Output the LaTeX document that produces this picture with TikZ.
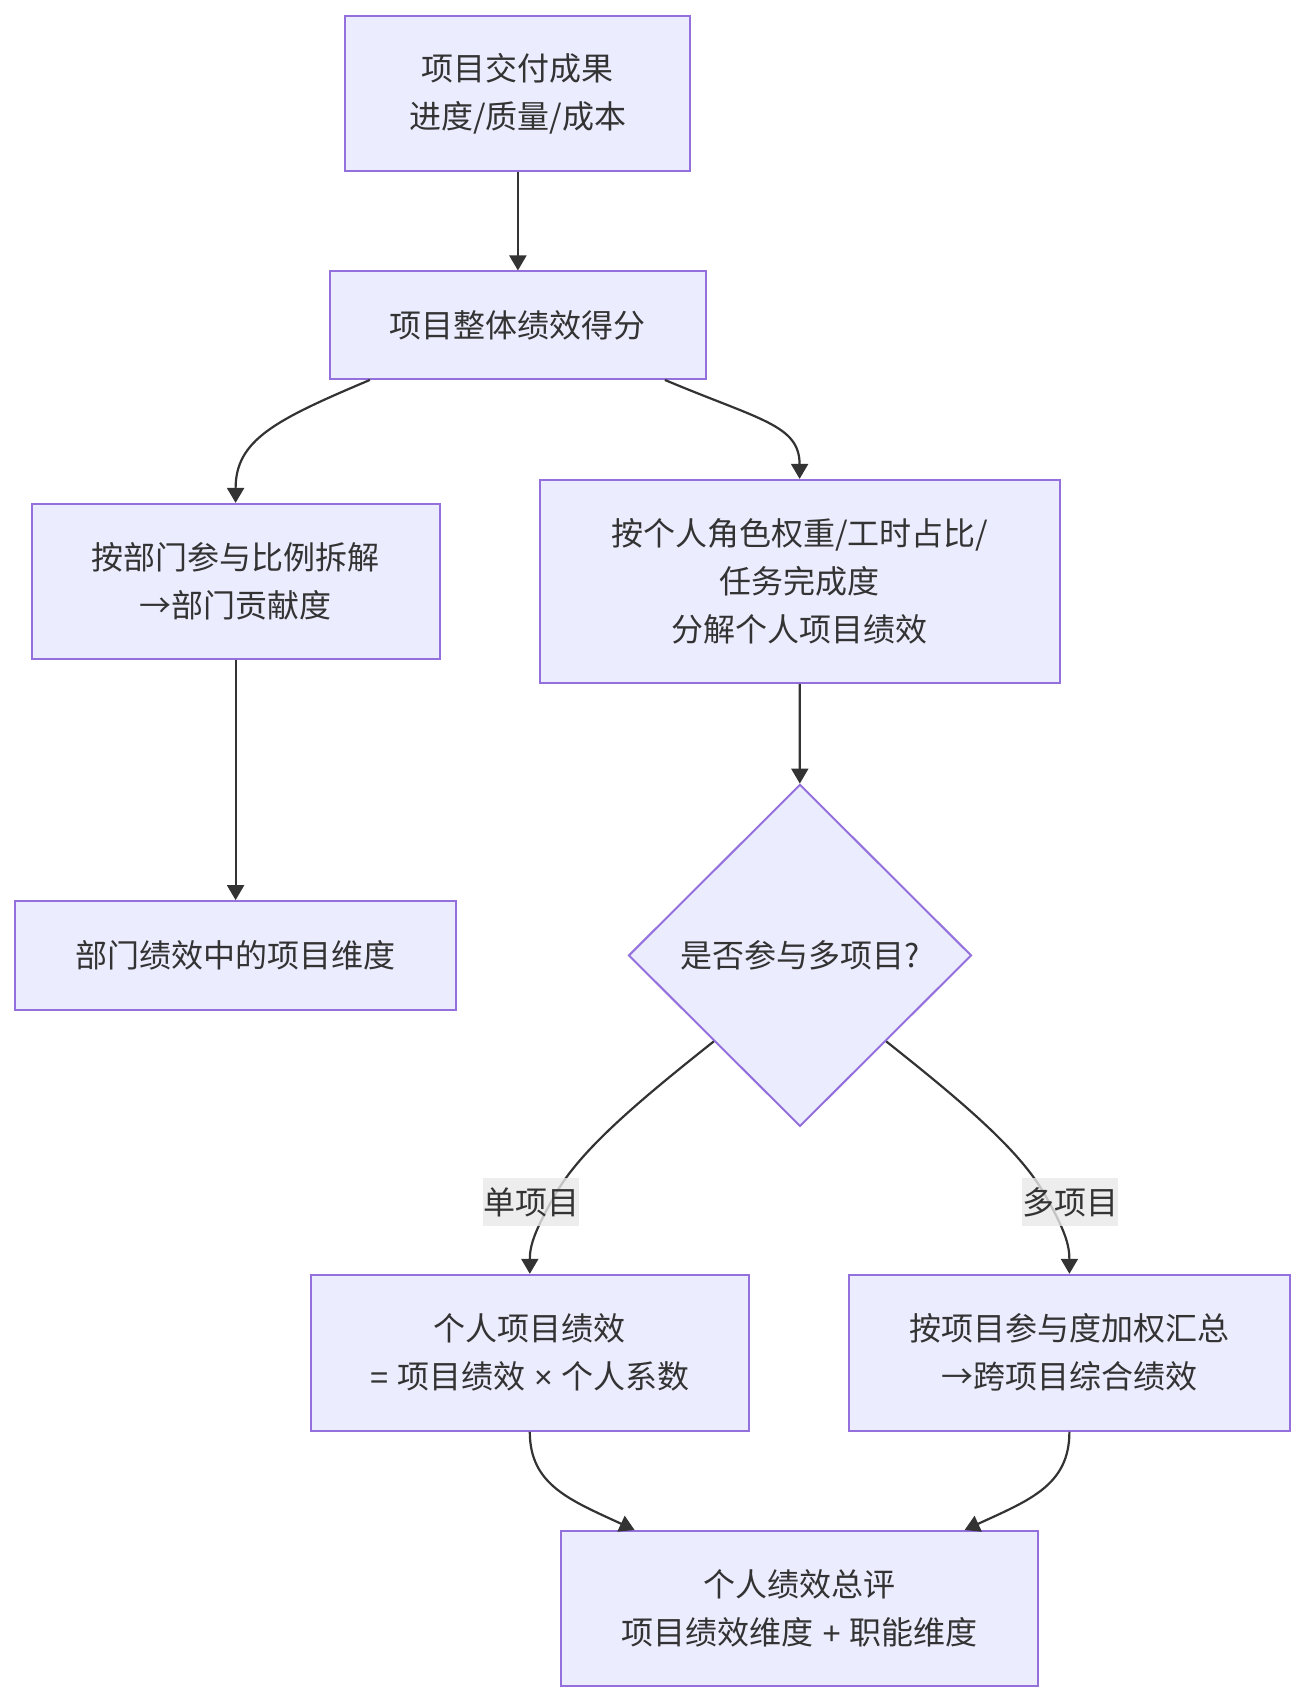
\documentclass[tikz,border=0pt]{standalone}
\usepackage{fontspec}
\setmainfont{Noto Sans CJK SC}
\newfontfamily\latinf{Liberation Sans}
\usetikzlibrary{shapes.geometric,arrows.meta,calc}
\definecolor{boxfill}{HTML}{ECECFF}
\definecolor{boxline}{HTML}{9370DB}
\definecolor{edgecol}{HTML}{333333}
\definecolor{lblbg}{HTML}{E8E8E8}
\tikzset{
  flowbox/.style={rectangle, draw=boxline, fill=boxfill, line width=2pt, inner sep=0pt,
    align=center, text=edgecol, font=\fontsize{32}{48}\selectfont},
  decbox/.style={diamond, draw=boxline, fill=boxfill, line width=2pt, inner sep=0pt,
    align=center, text=edgecol, font=\fontsize{32}{48}\selectfont,
    minimum width=343pt, minimum height=342pt},
  edgelbl/.style={rectangle, fill=lblbg, fill opacity=0.8, text opacity=1, inner xsep=0pt,
    inner ysep=0pt, minimum height=48pt, text=edgecol, font=\fontsize{32}{48}\selectfont},
  conn/.style={draw=edgecol, line width=2.2pt, -{Triangle[width=17pt,length=15pt]}}
}
\begin{document}
\begin{tikzpicture}[x=1pt,y=-1pt]
\useasboundingbox (0,0) rectangle (1305,1703);
\node[flowbox, minimum width=345pt, minimum height=155pt] (n1) at (517.9,93.9) {项目交付成果\\进度/质量/成本};
\node[flowbox, minimum width=376pt, minimum height=107.5pt] (n2) at (517.9,325.2) {项目整体绩效得分};
\node[flowbox, minimum width=408pt, minimum height=155pt] (n3) at (235.6,581.4) {按部门参与比例拆解\\→部门贡献度};
\node[flowbox, minimum width=520pt, minimum height=203pt] (n4) at (799.6,581.4) {按个人角色权重/工时占比/\\任务完成度\\分解个人项目绩效};
\node[flowbox, minimum width=441pt, minimum height=108.6pt] (n5) at (235.6,955.4) {部门绩效中的项目维度};
\node[decbox] (n6) at (800,955.4) {是否参与多项目?};
\node[flowbox, minimum width=438.6pt, minimum height=156pt] (n7) at (529.8,1352.8) {个人项目绩效\\{\latinf= }项目绩效{\latinf\ × }个人系数};
\node[flowbox, minimum width=440.8pt, minimum height=156pt] (n8) at (1069.4,1352.8) {按项目参与度加权汇总\\→跨项目综合绩效};
\node[flowbox, minimum width=476.6pt, minimum height=155pt] (n9) at (799.6,1608.5) {个人绩效总评\\项目绩效维度{\latinf\ + }职能维度};

\draw[conn] (n1) -- (n2);
\draw[conn] ([xshift=-148]n2.south) .. controls (275,420) and (235.6,440) .. (n3.north);
\draw[conn] ([xshift=147]n2.south) .. controls (760,420) and (799.6,425) .. (n4.north);
\draw[conn] (n3) -- (n5);
\draw[conn] (n4) -- (n6);
\draw[conn] (n6.south west) .. controls (640,1100) and (580,1150) .. (555,1195)
  .. controls (535,1230) and (529.8,1245) .. (n7.north);
\draw[conn] (n6.south east) .. controls (960,1100) and (1020,1150) .. (1045,1195)
  .. controls (1065,1230) and (1069.4,1245) .. (n8.north);
\draw[conn] (n7.south) .. controls (529.8,1485) and (570,1500) .. ([xshift=-165]n9.north);
\draw[conn] (n8.south) .. controls (1069.4,1485) and (1030,1500) .. ([xshift=165]n9.north);

\node[edgelbl] (l1) at (531,1202) {单项目};
\node[edgelbl] (l2) at (1070,1202) {多项目};
\end{tikzpicture}
\end{document}
